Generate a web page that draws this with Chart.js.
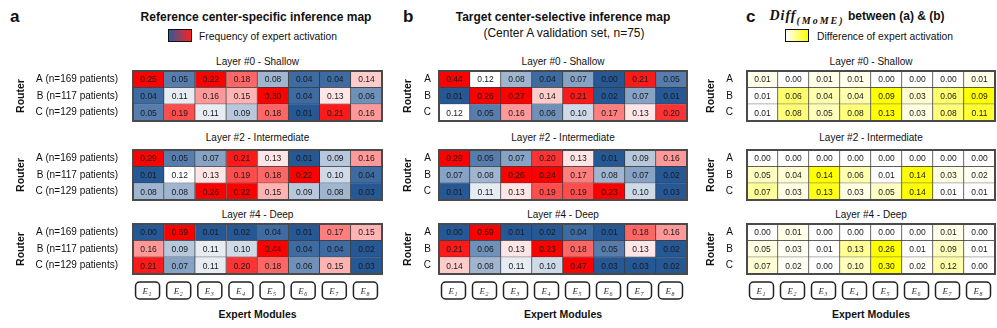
<!DOCTYPE html>
<html>
<head>
<meta charset="utf-8">
<script src="https://cdn.jsdelivr.net/npm/chart.js@4.4.1/dist/chart.umd.min.js"></script>
<style>
  body { margin: 0; background: #fff; width: 997px; height: 328px; position: relative; overflow: hidden;
         font-family: "Liberation Sans", Arial, sans-serif; color: #111; }
  .t { position: absolute; white-space: nowrap; transform: translate(-50%, -50%); }
  .plab { position: absolute; font-weight: bold; font-size: 17px; transform: translateY(-50%); }
  .title { font-weight: bold; font-size: 12px; }
  .sub { font-size: 12px; }
  .layer { font-size: 10px; }
  .xlab { font-weight: bold; font-size: 10.5px; }
  .legbox { position: absolute; width: 22px; height: 11px; border: 1.5px solid #111; }
  .legtxt { position: absolute; font-size: 10.3px; transform: translateY(-50%); white-space: nowrap; }
  .math { font-family: "Liberation Serif", serif; font-style: italic; font-weight: bold; font-size: 14px; letter-spacing: 1px; }
  .math sub { font-size: 10px; letter-spacing: 2px; }
  .wrap { position: absolute; }
</style>
</head>
<body>

<div class="plab" style="left:10px;top:17px">a</div>
<div class="t title" style="left:256px;top:17px">Reference center-specific inference map</div>
<div class="legbox" style="left:168px;top:29px;background:linear-gradient(90deg,#2f5b9b,#ff2020)"></div>
<div class="legtxt" style="left:199px;top:36px">Frequency of expert activation</div>

<div class="plab" style="left:403px;top:17px">b</div>
<div class="t title" style="left:563px;top:17px">Target center-selective inference map</div>
<div class="t sub" style="left:564px;top:33px">(Center A validation set, n=75)</div>

<div class="plab" style="left:746px;top:17px">c</div>
<div class="t title" style="left:857px;top:17px"><span class="math">Diff<sub>(MoME)</sub></span> between (a) &amp; (b)</div>
<div class="legbox" style="left:785px;top:29px;background:linear-gradient(90deg,#fff,#ff0)"></div>
<div class="legtxt" style="left:817px;top:36px">Difference of expert activation</div>

<script>
Chart.defaults.font.family = '"Liberation Sans", Arial, sans-serif';
Chart.defaults.color = '#111';

const experts = ['1', '2', '3', '4', '5', '6', '7', '8'];
const routersRef = ['A (n=169 patients)', 'B (n=117 patients)', 'C (n=129 patients)'];
const routersTgt = ['A', 'B', 'C'];
const layerNames = ['Layer #0 - Shallow', 'Layer #2 - Intermediate', 'Layer #4 - Deep'];

// (a) reference center-specific map, rows A/B/C
const refL0 = [[0.25, 0.05, 0.22, 0.18, 0.08, 0.04, 0.04, 0.14],
               [0.04, 0.11, 0.16, 0.15, 0.30, 0.04, 0.13, 0.06],
               [0.05, 0.19, 0.11, 0.09, 0.18, 0.01, 0.21, 0.16]];
const refL2 = [[0.29, 0.05, 0.07, 0.21, 0.13, 0.01, 0.09, 0.16],
               [0.01, 0.12, 0.13, 0.19, 0.18, 0.22, 0.10, 0.04],
               [0.08, 0.08, 0.26, 0.22, 0.15, 0.09, 0.08, 0.03]];
const refL4 = [[0.00, 0.59, 0.01, 0.02, 0.04, 0.01, 0.17, 0.15],
               [0.16, 0.09, 0.11, 0.10, 0.44, 0.04, 0.04, 0.02],
               [0.21, 0.07, 0.11, 0.20, 0.18, 0.06, 0.15, 0.03]];

// (b) target center-selective map
const tgtL0 = [[0.44, 0.12, 0.08, 0.04, 0.07, 0.00, 0.21, 0.05],
               [0.01, 0.26, 0.27, 0.14, 0.21, 0.02, 0.07, 0.01],
               [0.12, 0.05, 0.16, 0.06, 0.10, 0.17, 0.13, 0.20]];
const tgtL2 = [[0.29, 0.05, 0.07, 0.20, 0.13, 0.01, 0.09, 0.16],
               [0.07, 0.08, 0.26, 0.24, 0.17, 0.08, 0.07, 0.02],
               [0.01, 0.11, 0.13, 0.19, 0.19, 0.23, 0.10, 0.03]];
const tgtL4 = [[0.00, 0.59, 0.01, 0.02, 0.04, 0.01, 0.18, 0.16],
               [0.21, 0.06, 0.13, 0.23, 0.18, 0.05, 0.13, 0.02],
               [0.14, 0.08, 0.11, 0.10, 0.47, 0.03, 0.03, 0.02]];

// (c) difference
const diffL0 = [[0.01, 0.00, 0.01, 0.01, 0.00, 0.00, 0.00, 0.01],
                [0.01, 0.06, 0.04, 0.04, 0.09, 0.03, 0.06, 0.09],
                [0.01, 0.08, 0.05, 0.08, 0.13, 0.03, 0.08, 0.11]];
const diffL2 = [[0.00, 0.00, 0.00, 0.00, 0.00, 0.00, 0.00, 0.00],
                [0.05, 0.04, 0.14, 0.06, 0.01, 0.14, 0.03, 0.02],
                [0.07, 0.03, 0.13, 0.03, 0.05, 0.14, 0.01, 0.01]];
const diffL4 = [[0.00, 0.01, 0.00, 0.00, 0.00, 0.00, 0.01, 0.00],
                [0.05, 0.03, 0.01, 0.13, 0.26, 0.01, 0.09, 0.01],
                [0.07, 0.02, 0.00, 0.10, 0.30, 0.02, 0.12, 0.00]];

function lerp(a, b, t) { return a.map((x, k) => Math.round(x + (b[k] - x) * t)); }
function rgb(c) { return 'rgb(' + c.join(',') + ')'; }

function heatColor(v) {
  const white = [255, 255, 255];
  if (v >= 0.12) return rgb(lerp(white, [255, 0, 0], Math.min(1, (v - 0.12) / 0.1)));
  return rgb(lerp(white, [38, 88, 150], Math.min(1, (0.12 - v) / 0.09)));
}
function diffColor(v, row) {
  const lo = Math.min(...row), hi = Math.max(...row);
  const t = Math.min(1, (v - lo) / Math.max(hi - lo, 0.08));
  return rgb(lerp([255, 255, 255], [255, 255, 0], Math.pow(t, 1.2)));
}

// numbers in cells + outer frame
const cellText = {
  id: 'cellText',
  afterDatasetsDraw(chart) {
    const ctx = chart.ctx;
    ctx.save();
    ctx.font = '8.5px "Liberation Sans", Arial, sans-serif';
    ctx.fillStyle = '#1a1a1a';
    ctx.textAlign = 'center';
    ctx.textBaseline = 'middle';
    chart.data.datasets.forEach((ds, j) => {
      chart.getDatasetMeta(j).data.forEach((bar, i) => {
        const p = bar.getCenterPoint();
        ctx.fillText(ds.values[i].toFixed(2), p.x, p.y + 0.5);
      });
    });
    const a = chart.chartArea;
    ctx.strokeStyle = '#4a4a4a';
    ctx.lineWidth = 2;
    ctx.strokeRect(a.left, a.top, a.right - a.left, a.bottom - a.top);
    ctx.restore();
  }
};

// expert boxes under the bottom map
const expertBoxes = {
  id: 'expertBoxes',
  afterDraw(chart) {
    if (!chart.options.showExperts) return;
    const ctx = chart.ctx, xs = chart.scales.x, y0 = chart.chartArea.bottom + 8;
    ctx.save();
    experts.forEach((e, j) => {
      const cx = xs.getPixelForValue(j + 0.5) - 1;
      ctx.beginPath();
      ctx.roundRect(cx - 12, y0, 24, 17, 4);
      ctx.lineWidth = 1.5;
      ctx.strokeStyle = '#222';
      ctx.stroke();
      ctx.fillStyle = '#333';
      ctx.textBaseline = 'alphabetic';
      ctx.textAlign = 'left';
      ctx.font = 'italic 9px "Liberation Serif", serif';
      ctx.fillText('E', cx - 5, y0 + 12);
      ctx.font = 'italic 6px "Liberation Serif", serif';
      ctx.fillText(e, cx + 1, y0 + 14);
    });
    ctx.restore();
  }
};

const panels = [
  { rows: routersRef, maps: [refL0, refL2, refL4], kind: 'heat', left: 15, axisW: 118, tickPad: 15, gridW: 249 },
  { rows: routersTgt, maps: [tgtL0, tgtL2, tgtL4], kind: 'heat', left: 402, axisW: 37, tickPad: 8, gridW: 248 },
  { rows: routersTgt, maps: [diffL0, diffL2, diffL4], kind: 'diff', left: 705, axisW: 42, tickPad: 14, gridW: 248 }
];
const mapTops = [71, 150, 224];
const layerTitleY = [61, 137, 214];
const mapH = 50;

function addText(cls, text, x, y) {
  const d = document.createElement('div');
  d.className = 't ' + cls;
  d.textContent = text;
  d.style.left = x + 'px';
  d.style.top = y + 'px';
  document.body.appendChild(d);
}

panels.forEach(p => {
  const cx = p.left + p.axisW + p.gridW / 2;
  p.maps.forEach((vals, li) => {
    const bottom = li === 2;
    addText('layer', layerNames[li], cx, layerTitleY[li]);

    const w = p.axisW + p.gridW + 2;
    const h = mapH + 2 + (bottom ? 30 : 0);
    const wrap = document.createElement('div');
    wrap.className = 'wrap';
    wrap.style.left = p.left + 'px';
    wrap.style.top = (mapTops[li] - 1) + 'px';
    const cv = document.createElement('canvas');
    cv.width = w; cv.height = h;
    cv.style.width = w + 'px'; cv.style.height = h + 'px';
    wrap.appendChild(cv);
    document.body.appendChild(wrap);

    const datasets = experts.map((e, j) => ({
      label: 'E' + e,
      data: vals.map(() => [j, j + 1]),
      values: vals.map(r => r[j]),
      backgroundColor: vals.map(r => p.kind === 'diff' ? diffColor(r[j], r) : heatColor(r[j])),
      borderColor: '#3a3a3a',
      borderWidth: { top: 0, left: 0, right: 1, bottom: 1 },
      borderSkipped: false,
      barPercentage: 1,
      categoryPercentage: 1,
      grouped: false
    }));

    new Chart(cv, {
      type: 'bar',
      data: { labels: p.rows, datasets: datasets },
      options: {
        indexAxis: 'y',
        responsive: false,
        animation: false,
        showExperts: bottom,
        layout: { padding: { top: 1, bottom: bottom ? 31 : 1, left: 0, right: 2 } },
        plugins: { legend: { display: false }, tooltip: { enabled: false } },
        scales: {
          x: { type: 'linear', min: 0, max: 8, display: false },
          y: {
            grid: { display: false, drawTicks: false },
            border: { display: false },
            ticks: { padding: p.tickPad, color: '#111', font: { size: 10 } },
            title: { display: true, text: 'Router', color: '#111', padding: 0,
                     font: { size: 10.5, weight: 'bold' } },
            afterFit(s) {
              s.width = p.axisW;
              s.paddingTop = 0;
              s.paddingBottom = 0;
            }
          }
        }
      },
      plugins: [cellText, expertBoxes]
    });
  });
  addText('xlab', 'Expert Modules', cx, 314);
});
</script>
</body>
</html>
